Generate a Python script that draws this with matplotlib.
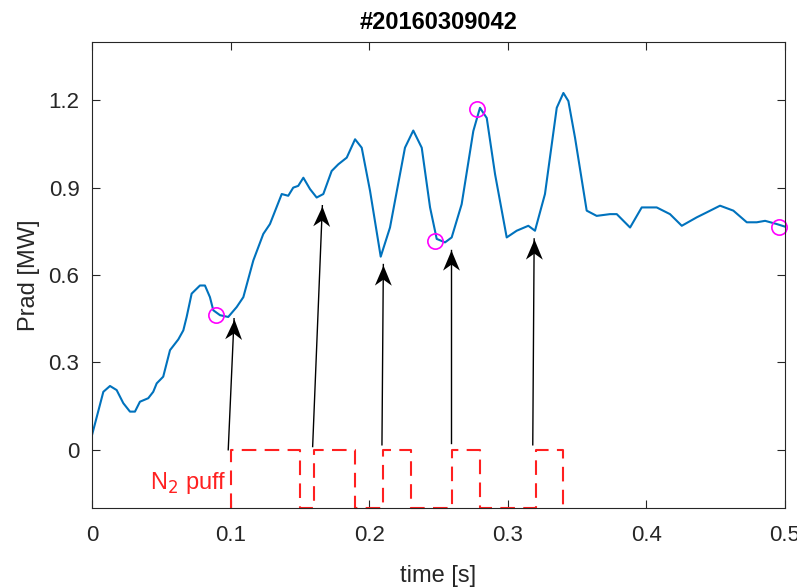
import math

import matplotlib.pyplot as plt
from matplotlib.markers import MarkerStyle
from matplotlib.path import Path
from matplotlib.transforms import Affine2D

plt.rcParams["font.family"] = ["Liberation Sans", "DejaVu Sans"]

# Prad trace
t = [0.0, 0.0082, 0.0130, 0.0178, 0.0226, 0.0274, 0.0310, 0.0346, 0.0406, 0.0442,
     0.0467, 0.0514, 0.0563, 0.0623, 0.0659, 0.0683, 0.0719, 0.0779, 0.0815, 0.0851,
     0.0875, 0.0924, 0.0983, 0.1044, 0.1092, 0.1164, 0.1236, 0.1284, 0.1369, 0.1416,
     0.1452, 0.1488, 0.1525, 0.1573, 0.1621, 0.1669, 0.1729, 0.1777, 0.1838, 0.1898,
     0.1946, 0.2006, 0.2083, 0.2150, 0.2258, 0.2318, 0.2379, 0.2439, 0.2487, 0.2547,
     0.2595, 0.2667, 0.2751, 0.2799, 0.2848, 0.2908, 0.2992, 0.3064, 0.3148, 0.3196,
     0.3268, 0.3353, 0.3401, 0.3437, 0.3485, 0.3569, 0.3641, 0.3737, 0.3786, 0.3882,
     0.3966, 0.4074, 0.4170, 0.4255, 0.4363, 0.4435, 0.4531, 0.4627, 0.4724, 0.4796,
     0.4856, 0.4940, 0.5]
prad = [0.05, 0.199, 0.219, 0.205, 0.160, 0.131, 0.131, 0.165, 0.177, 0.199,
        0.228, 0.251, 0.342, 0.379, 0.410, 0.456, 0.536, 0.564, 0.564, 0.524,
        0.479, 0.462, 0.456, 0.490, 0.524, 0.650, 0.741, 0.775, 0.878, 0.872,
        0.900, 0.906, 0.934, 0.895, 0.866, 0.878, 0.957, 0.980, 1.003, 1.066,
        1.037, 0.889, 0.663, 0.763, 1.037, 1.096, 1.037, 0.832, 0.724, 0.712,
        0.729, 0.843, 1.094, 1.174, 1.139, 0.946, 0.729, 0.752, 0.769, 0.752,
        0.878, 1.174, 1.225, 1.197, 1.071, 0.821, 0.803, 0.809, 0.809, 0.763,
        0.832, 0.832, 0.809, 0.769, 0.798, 0.815, 0.838, 0.821, 0.781, 0.781,
        0.786, 0.775, 0.766]

# N2 puff waveform (on/off times)
puff_t = [0.10, 0.10, 0.15, 0.15, 0.16, 0.16, 0.19, 0.19, 0.21, 0.21,
          0.23, 0.23, 0.26, 0.26, 0.28, 0.28, 0.32, 0.32, 0.34, 0.34]
puff_v = [-0.2, 0, 0, -0.2, -0.2, 0, 0, -0.2, -0.2, 0,
          0, -0.2, -0.2, 0, 0, -0.2, -0.2, 0, 0, -0.2]

# marked points
mark_t = [0.0895, 0.2475, 0.2778, 0.4957]
mark_v = [0.462, 0.718, 1.169, 0.766]

# arrows: start -> tip
arr_t0 = [0.0983, 0.1592, 0.2092, 0.2590, 0.3180]
arr_v0 = [0.0, 0.011, 0.017, 0.023, 0.017]
arr_t1 = [0.1025, 0.1662, 0.2102, 0.2590, 0.3190]
arr_v1 = [0.450, 0.838, 0.636, 0.686, 0.724]

fig = plt.figure(figsize=(7.97, 5.88), dpi=100)
ax = fig.add_axes([0.1154, 0.136, 0.8696, 0.7926])
ax.set_xlim(0, 0.5)
ax.set_ylim(-0.2, 1.4)

ax.plot(t, prad, color="#0072BD", lw=1.5)
ax.plot(puff_t, puff_v, color="#FF2020", lw=1.5, linestyle=(0, (7, 4)), clip_on=False)
ax.plot(mark_t, mark_v, "o", mfc="none", mec="#FF00FF", ms=11, mew=1.2, clip_on=False)

# matlab style notched arrow head, tip at (0, 0) pointing up
head = Path([(0, 0), (-0.42, -1), (0, -0.7), (0.42, -1), (0, 0)],
            [Path.MOVETO, Path.LINETO, Path.LINETO, Path.LINETO, Path.CLOSEPOLY])

for x0, y0, x1, y1 in zip(arr_t0, arr_v0, arr_t1, arr_v1):
    ax.plot([x0, x1], [y0, y1], color="black", lw=1)
    p0 = ax.transData.transform((x0, y0))
    p1 = ax.transData.transform((x1, y1))
    ang = math.degrees(math.atan2(p1[0] - p0[0], p1[1] - p0[1]))
    m = MarkerStyle(head, transform=Affine2D().rotate_deg(-ang))
    ax.plot([x1], [y1], marker=m, ms=29, color="black", mew=0)

ax.text(0.097, -0.113, "N$_2$ puff", color="#FF2020", fontsize=17,
        ha="right", va="center")

ax.set_xticks([0, 0.1, 0.2, 0.3, 0.4, 0.5])
ax.set_xticklabels(["0", "0.1", "0.2", "0.3", "0.4", "0.5"])
ax.set_yticks([0, 0.3, 0.6, 0.9, 1.2])
ax.set_yticklabels(["0", "0.3", "0.6", "0.9", "1.2"])
ax.tick_params(direction="in", top=True, right=True, length=6, width=0.8,
               labelsize=16, colors="#262626")
ax.tick_params(axis="x", pad=12)
ax.tick_params(axis="y", pad=9)
for s in ax.spines.values():
    s.set_color("#262626")
    s.set_linewidth(0.8)

ax.set_xlabel("time [s]", fontsize=17, color="#262626", labelpad=14)
ax.set_ylabel("Prad [MW]", fontsize=17, color="#262626", labelpad=6)
ax.set_title("#20160309042", fontsize=17, fontweight="bold", pad=9)

fig.savefig("out.png", dpi=100)
